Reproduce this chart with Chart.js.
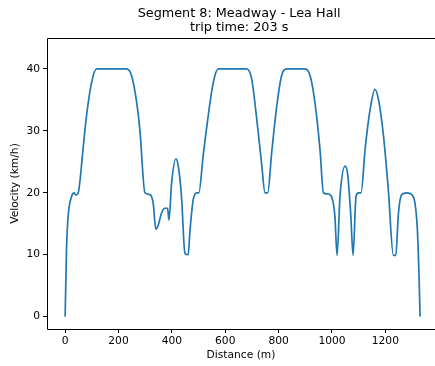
<!DOCTYPE html>
<html>
<head>
<meta charset="utf-8">
<script src="https://cdn.jsdelivr.net/npm/chart.js@4"></script>
<style>
  html, body { margin: 0; padding: 0; background: #fff; }
  canvas { display: block; }
</style>
</head>
<body>
<canvas id="speedChart" width="435" height="366"></canvas>
<script>
// velocity profile
const distance = [0, 5, 11, 24, 34, 40, 49, 68, 80, 99, 118, 230, 249, 268, 280, 299, 318, 330, 340, 349, 361, 374, 384, 389, 399, 415, 424, 436, 449, 461, 468, 480, 493, 501, 517, 536, 555, 574, 680, 699, 718, 736, 749, 759, 774, 793, 811, 830, 899, 918, 936, 955, 968, 986, 1005, 1011, 1019, 1030, 1049, 1058, 1070, 1079, 1090, 1099, 1109, 1124, 1143, 1161, 1174, 1193, 1211, 1230, 1239, 1249, 1261, 1280, 1299, 1311, 1320, 1327, 1330];
const velocity = [0, 10.7, 16.1, 19.4, 20, 19.6, 20, 27.5, 32.4, 37.8, 40, 40, 38.9, 34.6, 30.2, 20, 19.7, 18.3, 14.1, 14.8, 16.7, 17.5, 17.5, 15.6, 21.6, 25.5, 24.3, 19.4, 10.2, 10, 14, 18.9, 20, 20, 25.9, 32.4, 37.8, 40, 40, 38.4, 31.9, 24.8, 20, 20, 26.5, 34, 38.9, 40, 40, 38.9, 34.6, 27, 20, 19.8, 18.3, 16.1, 9.9, 19.4, 24.3, 23.2, 16.7, 9.9, 19.4, 20, 20, 27, 33.5, 36.7, 35.1, 29.2, 20.5, 9.9, 9.9, 16.7, 19.7, 20, 19.7, 18.3, 14, 5.3, 0];
const xTicks = [0, 200, 400, 600, 800, 1000, 1200];
const yTicks = [0, 10, 20, 30, 40];
const titleLines = ['Segment 8: Meadway - Lea Hall', 'trip time: 203 s'];

const points = distance.map((d, i) => ({ x: d, y: velocity[i] }));
const labelFont = { family: 'DejaVu Sans', size: 10.7 };

// frame (right side falls off the canvas) plus the two-line title
const framePlugin = {
    id: 'frame',
    afterDraw(chart) {
        const ctx = chart.ctx;
        const a = chart.chartArea;
        const w = chart.width;
        ctx.save();
        ctx.strokeStyle = '#000';
        ctx.lineWidth = 1;
        ctx.beginPath();
        ctx.moveTo(w + 2, a.top + 0.5);
        ctx.lineTo(a.left + 0.5, a.top + 0.5);
        ctx.lineTo(a.left + 0.5, a.bottom + 0.5);
        ctx.lineTo(w + 2, a.bottom + 0.5);
        ctx.stroke();
        ctx.fillStyle = '#000';
        ctx.font = '12.8px "DejaVu Sans"';
        ctx.textAlign = 'center';
        ctx.textBaseline = 'middle';
        // axes centre sits a bit right of the canvas edge
        const cx = chart.scales.x.getPixelForValue(652);
        ctx.fillText(titleLines[0], cx, 14);
        ctx.fillText(titleLines[1], cx, 28);
        ctx.restore();
    }
};

new Chart(document.getElementById('speedChart').getContext('2d'), {
    type: 'line',
    data: {
        datasets: [{
            data: points,
            borderColor: '#1f77b4',
            borderWidth: 1.7,
            pointRadius: 0,
            fill: false,
            cubicInterpolationMode: 'monotone'
        }]
    },
    options: {
        responsive: false,
        animation: false,
        layout: { padding: { top: 38, right: 0, left: 0, bottom: 0 } },
        plugins: { legend: { display: false }, tooltip: { enabled: false } },
        scales: {
            x: {
                type: 'linear',
                min: -68,
                max: 1386,
                afterBuildTicks: s => { s.ticks = xTicks.map(v => ({ value: v })); },
                afterFit: s => { s.height = 37; },
                grid: { display: true, drawOnChartArea: false, drawTicks: true, tickLength: 4, tickColor: '#000', color: 'rgba(0,0,0,0)' },
                border: { display: false },
                ticks: { color: '#000', font: labelFont, padding: 2, maxRotation: 0, autoSkip: false, callback: v => String(v) },
                title: { display: true, text: 'Distance (m)', color: '#000', font: labelFont, padding: { top: 0, bottom: 4 } }
            },
            y: {
                type: 'linear',
                min: -2,
                max: 45,
                afterBuildTicks: s => { s.ticks = yTicks.map(v => ({ value: v })); },
                afterFit: s => { s.width = 47; },
                grid: { display: true, drawOnChartArea: false, drawTicks: true, tickLength: 4, tickColor: '#000', color: 'rgba(0,0,0,0)' },
                border: { display: false },
                ticks: { color: '#000', font: labelFont, padding: 3, callback: v => String(v) },
                title: { display: true, text: 'Velocity (km/h)', color: '#000', font: labelFont, padding: { top: 9, bottom: 0 } }
            }
        }
    },
    plugins: [framePlugin]
});
</script>
</body>
</html>
